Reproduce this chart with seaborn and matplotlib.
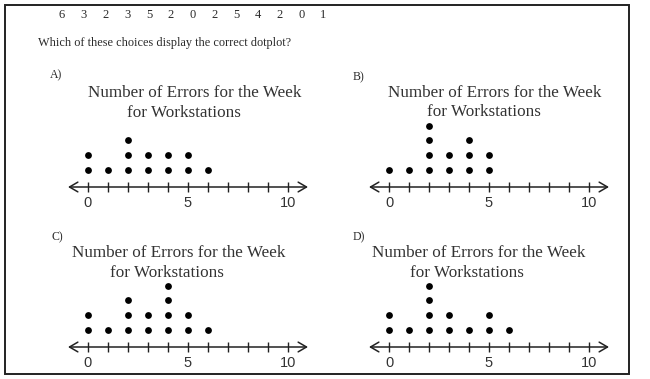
import numpy as np
import pandas as pd
import matplotlib
matplotlib.use('Agg')
import matplotlib.pyplot as plt
from matplotlib.patches import Rectangle
import seaborn as sns

sns.set_style('white')
plt.rcParams['font.family'] = ['Liberation Serif', 'DejaVu Serif']

W, H = 650, 379

# raw data shown at the top of the worksheet
RAW_VALUES = [6, 3, 2, 3, 5, 2, 0, 2, 5, 4, 2, 0, 1]

QUESTION = 'Which of these choices display the correct dotplot?'
TITLE_1 = 'Number of Errors for the Week'
TITLE_2 = 'for Workstations'

# the four answer choices, as the values each dotplot shows
OPTION_LABELS = ['A)', 'B)', 'C)', 'D)']
OPTION_A = [0, 0, 1, 2, 2, 2, 3, 3, 4, 4, 5, 5, 6]
OPTION_B = [0, 1, 2, 2, 2, 2, 3, 3, 4, 4, 4, 5, 5]
OPTION_C = [0, 0, 1, 2, 2, 2, 3, 3, 4, 4, 4, 4, 5, 5, 6]
OPTION_D = [0, 0, 1, 2, 2, 2, 2, 3, 3, 4, 5, 5, 6]
OPTIONS = [OPTION_A, OPTION_B, OPTION_C, OPTION_D]

TICKS = list(range(0, 11))
TICK_LABELS = ['0', '', '', '', '', '5', '', '', '', '', '10']

# pixel layout of each panel: (label x, label y, title x1, title x2, title y1, title y2, zero x, axis y)
PANELS = [
    (50, 75, 88, 127, 93, 113, 88, 187),
    (353, 77, 388, 427, 93, 112, 389, 187),
    (52, 237, 72, 110, 253, 273, 88, 347),
    (353, 237, 372, 410, 253, 273, 389, 347),
]

PX_X = 20.0     # pixels per unit on the number line
PX_Y = 14.8     # pixels per stacked dot
TEXT_COL = '#2a2a2a'

fig = plt.figure(figsize=(W / 100, H / 100), dpi=100)


def fx(px):
    return px / W


def fy(py):
    return 1 - py / H


# outer frame
fig.patches.append(Rectangle((fx(5), fy(374)), fx(629) - fx(5), fy(5) - fy(374),
                             transform=fig.transFigure, fill=False,
                             edgecolor='#222222', linewidth=1.4))

# header
for i, v in enumerate(RAW_VALUES):
    fig.text(fx(62 + i * 21.75), fy(15), str(v), ha='center', va='center',
             fontsize=9, color=TEXT_COL)
fig.text(fx(38), fy(43), QUESTION, ha='left', va='center', fontsize=8.8, color=TEXT_COL)

for lab, vals, (lx, ly, tx1, tx2, ty1, ty2, x0, yax) in zip(OPTION_LABELS, OPTIONS, PANELS):
    fig.text(fx(lx), fy(ly), lab, ha='left', va='center', fontsize=8.5, color=TEXT_COL)
    fig.text(fx(tx1), fy(ty1), TITLE_1, ha='left', va='center', fontsize=12.3, color='#333333')
    fig.text(fx(tx2), fy(ty2), TITLE_2, ha='left', va='center', fontsize=12.3, color='#333333')

    # stack repeated values into dot levels
    df = pd.DataFrame({'value': vals})
    df['level'] = df.groupby('value').cumcount() + 1.15

    xlo, xhi = -1.3, 11.3
    ylo, yhi = -1.5, 5.6
    left = x0 + xlo * PX_X
    width = (xhi - xlo) * PX_X
    top = yax - yhi * PX_Y
    height = (yhi - ylo) * PX_Y
    ax = fig.add_axes([fx(left), fy(top + height), width / W, height / H])
    ax.set_xlim(xlo, xhi)
    ax.set_ylim(ylo, yhi)
    ax.patch.set_alpha(0)

    sns.scatterplot(data=df, x='value', y='level', ax=ax, color='black',
                    s=24, linewidth=0, legend=False)

    ax.annotate('', xy=(11, 0), xytext=(-1, 0),
                arrowprops=dict(arrowstyle='<->,head_length=0.6,head_width=0.35',
                                color='#222222', lw=1.1, shrinkA=0, shrinkB=0))
    for s in ax.spines.values():
        s.set_visible(False)
    ax.spines['bottom'].set_position(('data', 0))
    ax.set_xticks(TICKS)
    ax.set_xticklabels(TICK_LABELS, fontsize=10.5, family=['Liberation Sans', 'DejaVu Sans'],
                       color='#333333')
    ax.tick_params(axis='x', bottom=True, direction='inout', length=7, width=1.0,
                   color='#222222', pad=3)
    ax.set_yticks([])
    ax.set_xlabel('')
    ax.set_ylabel('')

fig.savefig('out.png', dpi=100)
